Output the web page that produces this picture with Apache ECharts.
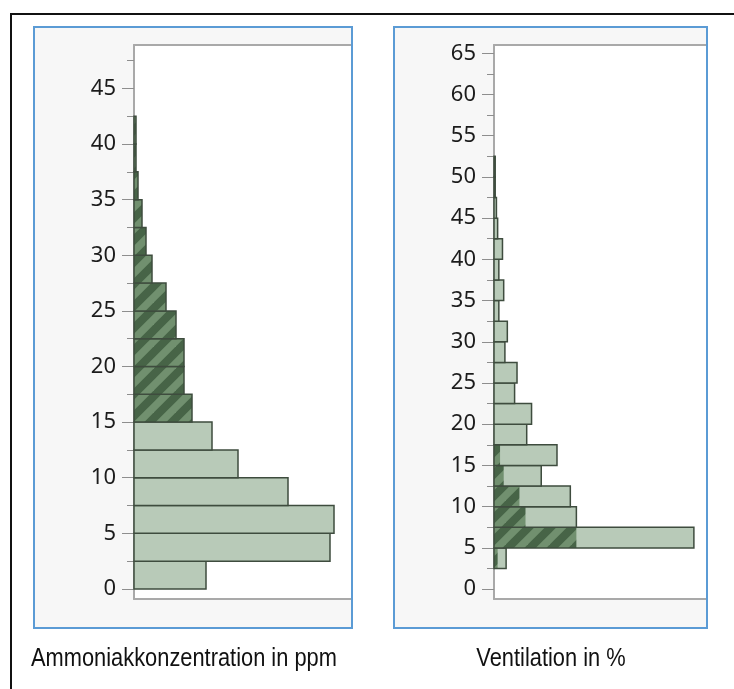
<!DOCTYPE html>
<html>
<head>
<meta charset="utf-8">
<script src="https://cdn.jsdelivr.net/npm/echarts@6/dist/echarts.min.js"></script>
<style>
  html, body { margin: 0; padding: 0; background: #fff; }
  #chart { width: 734px; height: 689px; }
</style>
</head>
<body>
<div id="chart"></div>
<script>
// ---- Data ----
const binWidth = 2.5;

// Ammoniakkonzentration in ppm: lower bin edges, counts, selected (hatched) counts
const ammoniaBinStarts = [0, 2.5, 5, 7.5, 10, 12.5, 15, 17.5, 20, 22.5, 25, 27.5, 30, 32.5, 35, 37.5, 40];
const ammoniaCounts    = [36, 98, 100, 77, 52, 39, 29, 25, 25, 21, 16, 9, 6, 4, 2, 1, 1];
const ammoniaSelected  = [0, 0, 0, 0, 0, 0, 29, 25, 25, 21, 16, 9, 6, 4, 2, 1, 1];

// Ventilation in %: lower bin edges, counts, selected (hatched) counts
const ventBinStarts = [2.5, 5, 7.5, 10, 12.5, 15, 17.5, 20, 22.5, 25, 27.5, 30, 32.5, 35, 37.5, 40, 42.5, 45, 47.5, 50];
const ventCounts    = [10, 165, 68, 63, 39, 52, 27, 31, 17, 19, 9, 11, 4, 8, 4, 7, 3, 2, 1, 1];
const ventSelected  = [3, 68, 26, 21, 8, 5, 0, 0, 0, 0, 0, 0, 0, 0, 0, 0, 0, 0, 0, 0];

// Tick labels
const ammoniaMajorTicks = [0, 5, 10, 15, 20, 25, 30, 35, 40, 45];
const ammoniaMinorTicks = [2.5, 7.5, 12.5, 17.5, 22.5, 27.5, 32.5, 37.5, 42.5, 47.5];
const ventMajorTicks = [0, 5, 10, 15, 20, 25, 30, 35, 40, 45, 50, 55, 60, 65];
const ventMinorTicks = [2.5, 7.5, 12.5, 17.5, 22.5, 27.5, 32.5, 37.5, 42.5, 47.5, 52.5, 57.5, 62.5];

const axisTitles = ['Ammoniakkonzentration in ppm', 'Ventilation in %'];

// ---- Styles ----
const lightFill = '#b8cab8';
const outline = '#3e4c3e';
const axisGray = '#a9a9a9';
const tickGray = '#8e8e8e';

function makeHatch() {
  const n = 22;
  const c = document.createElement('canvas');
  c.width = n; c.height = n;
  const ctx = c.getContext('2d');
  ctx.fillStyle = '#71906f';
  ctx.fillRect(0, 0, n, n);
  ctx.strokeStyle = '#476447';
  ctx.lineWidth = 8;
  [0, n, 2 * n].forEach(function (k) {
    ctx.beginPath();
    ctx.moveTo(k + 10, -10);
    ctx.lineTo(k - n - 10, n + 10);
    ctx.stroke();
  });
  return c;
}
const hatchPattern = { image: makeHatch(), repeat: 'repeat' };

function buildData(starts, counts, selected) {
  return starts.map(function (s, i) {
    return [counts[i], s, s + binWidth, selected[i]];
  });
}

function renderBin(params, api) {
  const c = api.value(0), y0 = api.value(1), y1 = api.value(2), s = api.value(3);
  const pBase = api.coord([0, y0]);
  const pTop = api.coord([c, y1]);
  const pSel = api.coord([s, y1]);
  const x = pBase[0], y = pTop[1];
  const w = pTop[0] - pBase[0], h = pBase[1] - pTop[1];
  const children = [{
    type: 'rect',
    shape: { x: x, y: y, width: w, height: h },
    style: { fill: lightFill }
  }];
  if (s > 0) {
    children.push({
      type: 'rect',
      shape: { x: x, y: y, width: pSel[0] - x, height: h },
      style: { fill: hatchPattern }
    });
  }
  children.push({
    type: 'rect',
    shape: { x: x, y: y, width: w, height: h },
    style: { fill: 'none', stroke: outline, lineWidth: 1.5 }
  });
  return { type: 'group', children: children };
}

function xAxes(gridIndex, max) {
  return [
    { type: 'value', gridIndex: gridIndex, position: 'bottom', min: 0, max: max,
      axisLine: { show: true, onZero: false, lineStyle: { color: axisGray, width: 2 } },
      axisTick: { show: false }, axisLabel: { show: false }, splitLine: { show: false } },
    { type: 'value', gridIndex: gridIndex, position: 'top', min: 0, max: max,
      axisLine: { show: true, onZero: false, lineStyle: { color: axisGray, width: 2 } },
      axisTick: { show: false }, axisLabel: { show: false }, splitLine: { show: false } }
  ];
}

function yAxes(gridIndex, min, max, major, minor) {
  return [
    { type: 'value', gridIndex: gridIndex, position: 'left', min: min, max: max,
      axisLine: { show: true, onZero: false, lineStyle: { color: axisGray, width: 2 } },
      axisTick: { show: true, length: 12, customValues: major, lineStyle: { color: tickGray, width: 1 } },
      axisLabel: { show: true, customValues: major, margin: 18, color: '#1c1c1c',
                   fontFamily: 'Noto Sans', fontSize: 22 },
      splitLine: { show: false } },
    { type: 'value', gridIndex: gridIndex, position: 'left', min: min, max: max,
      axisLine: { show: false, onZero: false },
      axisTick: { show: true, length: 7, customValues: minor, lineStyle: { color: tickGray, width: 1 } },
      axisLabel: { show: false },
      splitLine: { show: false } }
  ];
}

const chart = echarts.init(document.getElementById('chart'), null, { renderer: 'canvas' });

const option = {
  backgroundColor: '#ffffff',
  animation: false,
  grid: [
    { left: 134, top: 45, width: 217, height: 554, show: true, backgroundColor: '#ffffff', borderWidth: 0 },
    { left: 494, top: 45, width: 212, height: 554, show: true, backgroundColor: '#ffffff', borderWidth: 0 }
  ],
  xAxis: xAxes(0, 108.5).concat(xAxes(1, 175)),
  yAxis: yAxes(0, -0.9, 48.9, ammoniaMajorTicks, ammoniaMinorTicks)
    .concat(yAxes(1, -1.2, 66.0, ventMajorTicks, ventMinorTicks)),
  series: [
    { type: 'custom', name: axisTitles[0], xAxisIndex: 0, yAxisIndex: 0,
      renderItem: renderBin, encode: { x: 0, y: [1, 2] },
      data: buildData(ammoniaBinStarts, ammoniaCounts, ammoniaSelected) },
    { type: 'custom', name: axisTitles[1], xAxisIndex: 2, yAxisIndex: 2,
      renderItem: renderBin, encode: { x: 0, y: [1, 2] },
      data: buildData(ventBinStarts, ventCounts, ventSelected) }
  ],
  graphic: [
    // outer black frame (extends past right/bottom edges)
    { type: 'rect', z: 100, silent: true,
      shape: { x: 11, y: 14, width: 760, height: 720 },
      style: { fill: 'none', stroke: '#111111', lineWidth: 2 } },
    // panel backgrounds
    { type: 'rect', z: -1, silent: true,
      shape: { x: 34, y: 27, width: 318, height: 601 },
      style: { fill: '#f7f7f7' } },
    { type: 'rect', z: -1, silent: true,
      shape: { x: 394, y: 27, width: 313, height: 601 },
      style: { fill: '#f7f7f7' } },
    // panel borders
    { type: 'rect', z: 100, silent: true,
      shape: { x: 34, y: 27, width: 318, height: 601 },
      style: { fill: 'none', stroke: '#5b9bd5', lineWidth: 2 } },
    { type: 'rect', z: 100, silent: true,
      shape: { x: 394, y: 27, width: 313, height: 601 },
      style: { fill: 'none', stroke: '#5b9bd5', lineWidth: 2 } },
    // axis titles
    { type: 'text', z: 100, x: 31, y: 659, scaleX: 0.84, silent: true,
      style: { text: axisTitles[0], font: '26px "Liberation Sans", Arial, sans-serif',
               fill: '#111111', align: 'left', verticalAlign: 'middle' } },
    { type: 'text', z: 100, x: 551, y: 659, scaleX: 0.84, silent: true,
      style: { text: axisTitles[1], font: '26px "Liberation Sans", Arial, sans-serif',
               fill: '#111111', align: 'center', verticalAlign: 'middle' } }
  ]
};

chart.setOption(option);
</script>
</body>
</html>
